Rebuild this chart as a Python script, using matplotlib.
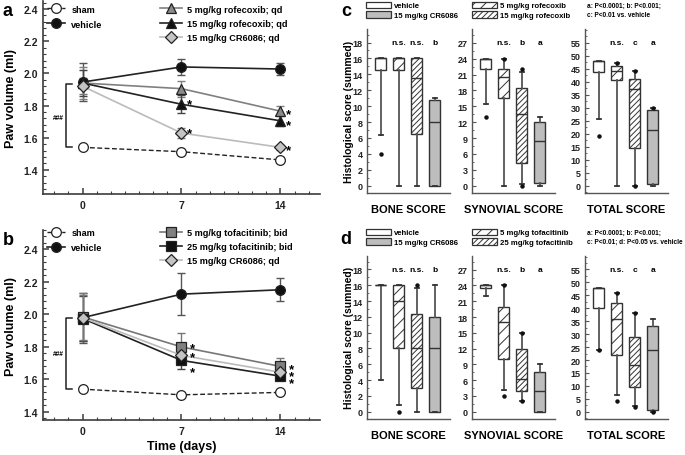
import matplotlib
matplotlib.use("Agg")
import matplotlib.pyplot as plt
from matplotlib.ticker import MultipleLocator, AutoMinorLocator
from matplotlib.patches import Patch

plt.rcParams["font.family"] = ["Liberation Sans", "DejaVu Sans"]
plt.rcParams["font.weight"] = "bold"
plt.rcParams["axes.labelweight"] = "bold"
plt.rcParams["hatch.linewidth"] = 0.7

W, H = 685, 456
days = [0, 7, 14]

# ---- panel a: paw volume, rofecoxib
a_sham = [1.54, 1.513, 1.462]
a_sham_err = [0.01, 0.01, 0.01]
a_veh = [1.946, 2.04, 2.027]
a_veh_err = [0.12, 0.047, 0.04]
a_rof5 = [1.94, 1.905, 1.765]
a_rof5_err = [0.10, 0.05, 0.03]
a_rof15 = [1.94, 1.808, 1.705]
a_rof15_err = [0.08, 0.055, 0.035]
a_cr = [1.92, 1.629, 1.54]
a_cr_err = [0.05, 0.03, 0.015]
a_stars = [(7, 1.83), (7, 1.65), (14, 1.765), (14, 1.695), (14, 1.54)]

# ---- panel b: paw volume, tofacitinib
b_sham = [1.54, 1.505, 1.52]
b_sham_err = [0.01, 0.01, 0.01]
b_veh = [1.98, 2.125, 2.152]
b_veh_err = [0.155, 0.128, 0.07]
b_tof5 = [1.985, 1.80, 1.68]
b_tof5_err = [0.15, 0.085, 0.05]
b_tof25 = [1.975, 1.717, 1.62]
b_tof25_err = [0.14, 0.05, 0.02]
b_cr = [1.98, 1.748, 1.644]
b_cr_err = [0.14, 0.02, 0.02]
b_stars = [(7, 1.81), (7, 1.755), (7, 1.665), (14, 1.685), (14, 1.64), (14, 1.597)]

# ---- panels c / d: histological scores (q1, med, q3, whislo, whishi, fliers)
c_bone = [(14.5, 16, 16, 6.4, 16, [4]),
          (14.5, 16, 16, 0, 16, []),
          (6.5, 13.5, 16, 0, 16, []),
          (0, 8, 10.8, 0, 11, [])]
c_syn = [(22, 24, 24, 15.5, 24, [13]),
         (16.5, 20.5, 22, 0, 24, [24]),
         (4.2, 13.5, 18.5, 0.3, 21.5, [22, 0]),
         (0.5, 8.5, 12, 0, 13, [])]
c_tot = [(43.5, 48, 48, 25.5, 48, [19]),
         (40.5, 44, 46, 0, 47, [47]),
         (14.5, 37, 41, 0, 44, [44, 0]),
         (0.5, 21.5, 29, 0, 30, [30])]
d_bone = [(16, 16, 16, 4, 16, []),
          (8, 14, 16, 0.8, 16, [0]),
          (3, 8, 12.3, 0, 15.7, [16]),
          (0, 8, 12, 0, 16, [])]
d_syn = [(23.5, 24, 24, 22, 24, []),
         (10, 17, 20, 4.2, 24, [24, 3]),
         (4, 6.3, 12, 2, 15, [15, 2]),
         (0, 4, 7.5, 0, 9, [])]
d_tot = [(40, 48, 48, 24, 48, [24]),
         (22, 36, 42, 6.3, 46, [46, 4]),
         (9.5, 18, 29, 2.3, 38, [38, 2]),
         (0.5, 24, 33, 0, 36, [0])]
score_names = ["BONE SCORE", "SYNOVIAL SCORE", "TOTAL SCORE"]
score_ticks = [(2, 18), (3, 27), (5, 55)]
score_ylim = [(-0.92, 19.7), (-1.38, 29.6), (-2.8, 60.2)]
c_marks = ["n.s.", "n.s.", "b", "n.s.", "b", "a", "n.s.", "c", "a"]
d_marks = ["n.s.", "n.s.", "b", "n.s.", "b", "a", "n.s.", "c", "a"]

fig = plt.figure(figsize=(W / 100, H / 100), dpi=100)


def px_axes(left, top, right, bottom):
    return fig.add_axes([left / W, 1 - bottom / H, (right - left) / W, (bottom - top) / H])


def style_line_ax(ax, ylim):
    ax.set_xlim(-2.8, 16.8)
    ax.set_ylim(*ylim)
    for s in ["top", "right"]:
        ax.spines[s].set_visible(False)
    for s in ["left", "bottom"]:
        ax.spines[s].set_color("#3c3c3c")
        ax.spines[s].set_linewidth(1.2)
    ax.xaxis.set_major_locator(MultipleLocator(7))
    ax.xaxis.set_minor_locator(MultipleLocator(1))
    ax.yaxis.set_major_locator(MultipleLocator(0.2))
    ax.yaxis.set_minor_locator(AutoMinorLocator(5))
    ax.tick_params(which="both", direction="in", colors="#3c3c3c", labelsize=7.5,
                   labelcolor="#222222")
    ax.tick_params(which="major", length=4, width=1.1)
    ax.tick_params(which="minor", length=2, width=0.8)
    ax.tick_params(axis="x", pad=4)
    ax.set_xticks(days)
    ax.set_xticklabels([str(d) for d in days], fontweight="bold")
    ax.set_yticklabels([f"{v:.1f}" for v in ax.get_yticks()], fontweight="bold")
    ax.set_ylabel("Paw volume (ml)", fontsize=9, labelpad=5, fontweight="bold")


def series(ax, y, err, color, mfc, marker, ms, ls="-", lw=1.2, label=None, ecolor=None):
    ax.errorbar(days, y, yerr=err, fmt="none", ecolor=ecolor or color, elinewidth=1,
                capsize=3, capthick=1, zorder=2)
    ax.plot(days, y, color=color, ls=ls, lw=lw, marker=marker, ms=ms, mfc=mfc,
            mec="#222222", mew=0.9, label=label, zorder=3)


def bracket(ax, top, bottom, ytxt):
    ax.plot([-0.75, -1.14, -1.14, -0.75], [top, top, bottom, bottom], color="#222222", lw=1.1)
    ax.text(-1.75, ytxt, "###", fontsize=4.8, ha="center", va="center")


def stars(ax, pts, dx):
    for x, y in pts:
        ax.text(x + dx, y - 0.02, "*", fontsize=9.5, ha="center", va="center")


def line_legends(ax, yanchor):
    hs, labs = ax.get_legend_handles_labels()
    leg1 = ax.legend(hs[:2], labs[:2], loc="upper left", bbox_to_anchor=(0.0, yanchor),
                     frameon=False, handlelength=2.0, handletextpad=0.7,
                     labelspacing=0.65, borderaxespad=0, prop={"weight": "bold", "size": 6.6})
    ax.add_artist(leg1)
    ax.legend(hs[2:], labs[2:], loc="upper left", bbox_to_anchor=(0.41, yanchor),
              frameon=False, handlelength=2.4, handletextpad=0.5, labelspacing=0.55,
              borderaxespad=0, prop={"weight": "bold", "size": 6.6})


# panel a
ax = px_axes(43, 2, 320, 195)
style_line_ax(ax, (1.25, 2.45))
series(ax, a_sham, a_sham_err, "#222222", "white", "o", 7, ls=(0, (3.5, 1.8)), lw=1, label="sham")
series(ax, a_veh, a_veh_err, "#222222", "#111111", "o", 7, label="vehicle", ecolor="#555555")
series(ax, a_rof5, a_rof5_err, "#808080", "#8a8a8a", "^", 7, label="5 mg/kg rofecoxib; qd")
series(ax, a_rof15, a_rof15_err, "#222222", "#111111", "^", 7, label="15 mg/kg rofecoxib; qd",
       ecolor="#444444")
series(ax, a_cr, a_cr_err, "#bbbbbb", "#c4c4c4", "D", 6, label="15 mg/kg CR6086; qd",
       ecolor="#777777")
bracket(ax, 1.932, 1.54, 1.726)
stars(ax, a_stars, 0.6)
line_legends(ax, 1.0)

# panel b
ax = px_axes(43, 231, 320, 421)
style_line_ax(ax, (1.35, 2.52))
series(ax, b_sham, b_sham_err, "#222222", "white", "o", 7, ls=(0, (3.5, 1.8)), lw=1, label="sham")
series(ax, b_veh, b_veh_err, "#222222", "#111111", "o", 7, label="vehicle", ecolor="#555555")
series(ax, b_tof5, b_tof5_err, "#777777", "#808080", "s", 6.5, label="5 mg/kg tofacitinib; bid")
series(ax, b_tof25, b_tof25_err, "#222222", "#111111", "s", 6.5, label="25 mg/kg tofacitinib; bid",
       ecolor="#444444")
series(ax, b_cr, b_cr_err, "#bbbbbb", "#c4c4c4", "D", 6, label="15 mg/kg CR6086; qd",
       ecolor="#777777")
bracket(ax, 1.976, 1.54, 1.758)
stars(ax, b_stars, 0.75)
ax.set_xlabel("Time (days)", fontsize=9, labelpad=3, fontweight="bold")
line_legends(ax, 1.03)

# box panels
box_styles = [dict(fc="white", hatch=None), dict(fc="white", hatch="///"),
              dict(fc="white", hatch="//////"), dict(fc="#bdbdbd", hatch=None)]


def box_panel(top, bottom, groups, marks):
    lefts = [367, 472, 585]
    for k, (left, stats, name) in enumerate(zip(lefts, groups, score_names)):
        ax = px_axes(left, top, left + 83, bottom)
        bstats = [dict(q1=q1, med=med, q3=q3, whislo=lo, whishi=hi, fliers=fl)
                  for q1, med, q3, lo, hi, fl in stats]
        res = ax.bxp(bstats, positions=[1, 2, 3, 4], widths=0.6, patch_artist=True,
                     capwidths=0.22, showfliers=True,
                     boxprops=dict(edgecolor="#333333", linewidth=1.0),
                     medianprops=dict(color="#333333", linewidth=1.0),
                     whiskerprops=dict(color="#555555", linewidth=1.3),
                     capprops=dict(color="#333333", linewidth=1.3),
                     flierprops=dict(marker="o", ms=2.2, mfc="#111111", mec="#111111"))
        for patch, st in zip(res["boxes"], box_styles):
            patch.set_facecolor(st["fc"])
            if st["hatch"]:
                patch.set_hatch(st["hatch"])
        step, top_val = score_ticks[k]
        ax.set_xlim(0.25, 4.85)
        ax.set_ylim(*score_ylim[k])
        ax.yaxis.set_minor_locator(AutoMinorLocator(2))
        ticks = list(range(0, top_val + 1, step))
        ax.set_yticks(ticks)
        ax.set_yticklabels([str(t) for t in ticks], fontweight="bold")
        ax.set_xticks([])
        for s in ["top", "right"]:
            ax.spines[s].set_visible(False)
        for s in ["left", "bottom"]:
            ax.spines[s].set_color("#555555")
            ax.spines[s].set_linewidth(1.0)
        ax.tick_params(which="both", direction="in", colors="#555555", labelsize=6.5,
                       labelcolor="#222222", pad=3)
        ax.tick_params(which="major", length=3)
        ax.tick_params(which="minor", length=1.5)
        ax.set_xlabel(name, fontsize=8, labelpad=8, fontweight="bold")
        for j in range(3):
            ax.text(2 + j, top_val, marks[3 * k + j], fontsize=6, ha="center", va="center",
                    fontweight="bold")


box_panel(30, 194, [c_bone, c_syn, c_tot], c_marks)
box_panel(257, 420, [d_bone, d_syn, d_tot], d_marks)

# legends for box panels
for top, lab_b, lab_c, stat2 in [(1, "5 mg/kg rofecoxib", "15 mg/kg rofecoxib",
                                   "c: P<0.01 vs. vehicle"),
                                  (228, "5 mg/kg tofacitinib", "25 mg/kg tofacitinib",
                                   "c: P<0.01; d: P<0.05 vs. vehicle")]:
    left_h = [Patch(facecolor="white", edgecolor="#333333", lw=0.9),
              Patch(facecolor="#bdbdbd", edgecolor="#333333", lw=0.9)]
    right_h = [Patch(facecolor="white", edgecolor="#333333", hatch="///", lw=0.9),
               Patch(facecolor="white", edgecolor="#333333", hatch="//////", lw=0.9)]
    for x0, hs, labs in [(364, left_h, ["vehicle", "15 mg/kg CR6086"]),
                         (470, right_h, [lab_b, lab_c])]:
        fig.legend(hs, labs, loc="upper left", bbox_to_anchor=(x0 / W, 1 - top / H),
                   frameon=False, handlelength=3.3, handleheight=0.9,
                   handletextpad=0.4, labelspacing=0.25, borderaxespad=0, borderpad=0.2,
                   prop={"weight": "bold", "size": 5.6})
    fig.text(587 / W, 1 - (top + 5.5) / H, "a: P<0.0001; b: P<0.001;", fontsize=4.7,
             va="center", fontweight="bold")
    fig.text(587 / W, 1 - (top + 14.5) / H, stat2, fontsize=4.7, va="center",
             fontweight="bold")

# panel letters and shared labels
fig.text(8 / W, 1 - 12 / H, "a", fontsize=13, ha="center", va="center", fontweight="bold")
fig.text(8 / W, 1 - 241 / H, "b", fontsize=13, ha="center", va="center", fontweight="bold")
fig.text(346 / W, 1 - 12 / H, "c", fontsize=13, ha="center", va="center", fontweight="bold")
fig.text(346 / W, 1 - 240 / H, "d", fontsize=13, ha="center", va="center", fontweight="bold")
fig.text(349 / W, 1 - 112 / H, "Histological score (summed)", fontsize=7.5, rotation=90,
         ha="center", va="center", fontweight="bold")
fig.text(349 / W, 1 - 338 / H, "Histological score (summed)", fontsize=7.5, rotation=90,
         ha="center", va="center", fontweight="bold")

fig.savefig("out.png", dpi=100)
